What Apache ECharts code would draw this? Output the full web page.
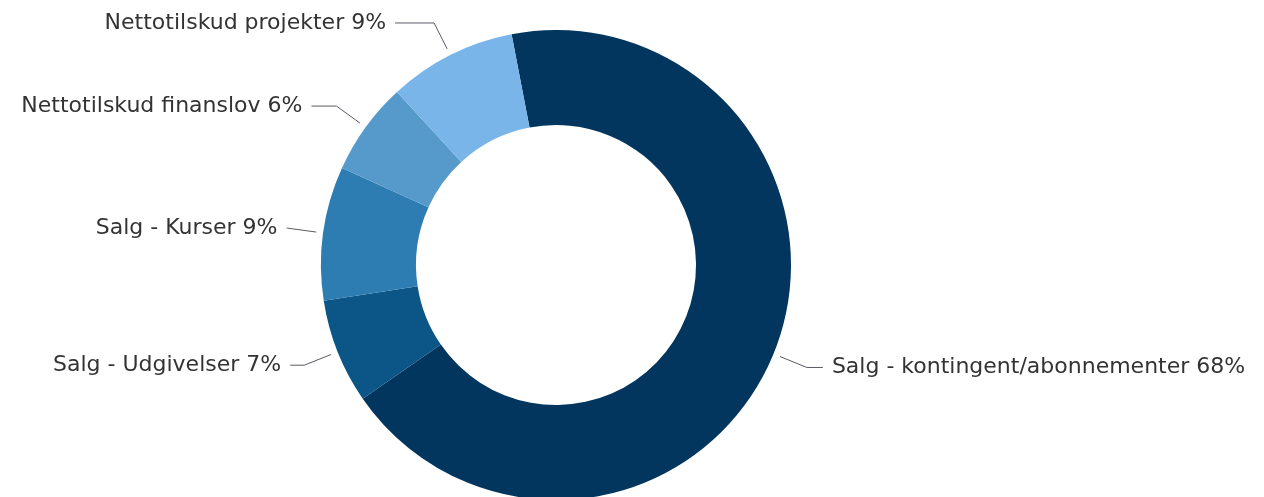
<!DOCTYPE html>
<html>
<head>
<meta charset="utf-8">
<script src="https://cdn.jsdelivr.net/npm/echarts@6/dist/echarts.min.js"></script>
<style>
  html, body { margin: 0; padding: 0; background: #fff; }
  #chart { width: 1264px; height: 497px; }
</style>
</head>
<body>
<div id="chart"></div>
<script>
// slices, clockwise from just left of 12 o'clock
const categories = [
    'Salg - kontingent/abonnementer',
    'Salg - Udgivelser',
    'Salg - Kurser',
    'Nettotilskud finanslov',
    'Nettotilskud projekter'
];
const shares = [68.4, 7.2, 9.2, 6.4, 8.8];
const colors = ['#03365e', '#0b5687', '#2d7db2', '#569acc', '#79b5e9'];
// second leg of each label line (px)
const lineTails = [16, 14, 1, 25, 39];

const chart = echarts.init(document.getElementById('chart'));

const center = [556, 265];
const startAngle = 100.9;

const option = {
    animation: false,
    textStyle: { fontFamily: 'DejaVu Sans' },
    series: [
        // the donut itself
        {
            type: 'pie',
            center: center,
            radius: [140, 235],
            startAngle: startAngle,
            clockwise: true,
            silent: true,
            label: { show: false },
            labelLine: { show: false },
            itemStyle: { borderWidth: 0 },
            data: categories.map((name, i) => ({
                name: name,
                value: shares[i],
                itemStyle: { color: colors[i] }
            }))
        },
        // invisible ring just outside, only carries the labels so the lines start with a gap
        {
            type: 'pie',
            center: center,
            radius: [235, 242],
            startAngle: startAngle,
            clockwise: true,
            silent: true,
            avoidLabelOverlap: false,
            itemStyle: { color: 'rgba(0,0,0,0)' },
            label: {
                show: true,
                position: 'outside',
                alignTo: 'none',
                bleedMargin: 0,
                distanceToLabelLine: 9,
                padding: [4, 0, 0, 0],
                color: '#333333',
                fontSize: 22,
                fontFamily: 'DejaVu Sans',
                formatter: (p) => p.name + ' ' + Math.round(p.percent) + '%'
            },
            labelLine: {
                show: true,
                length: 29,
                lineStyle: { color: '#5a5a66', width: 1 }
            },
            data: categories.map((name, i) => ({
                name: name,
                value: shares[i],
                labelLine: { length2: lineTails[i] }
            }))
        }
    ]
};

chart.setOption(option);
window.addEventListener('resize', () => chart.resize());
</script>
</body>
</html>
